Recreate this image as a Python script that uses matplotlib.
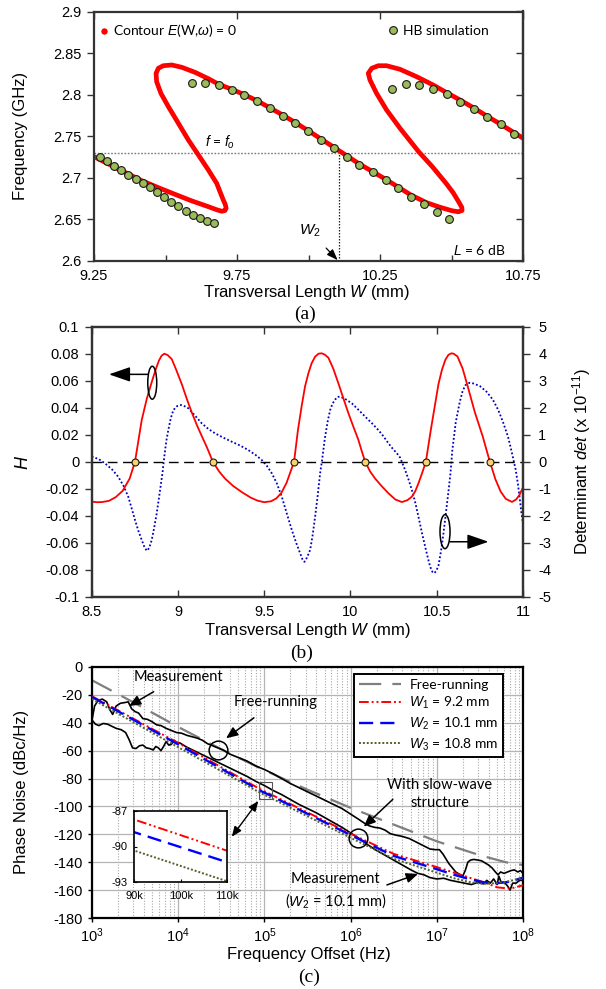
import numpy as np
import matplotlib
matplotlib.use("Agg")
import matplotlib.pyplot as plt
from matplotlib.patches import Ellipse, Rectangle
from matplotlib.lines import Line2D
from matplotlib.font_manager import FontProperties

plt.rcParams['font.family'] = ['Liberation Sans', 'DejaVu Sans']
plt.rcParams['axes.unicode_minus'] = False
plt.rcParams['mathtext.fontset'] = 'custom'
plt.rcParams['mathtext.rm'] = 'Liberation Sans'
plt.rcParams['mathtext.it'] = 'Liberation Sans:italic'
plt.rcParams['mathtext.bf'] = 'Liberation Sans:bold'

# ---------------- data: panel (a) ----------------
contour_w = [9.250, 9.330, 9.417, 9.475, 9.533, 9.590, 9.650, 9.680, 9.697, 9.708, 9.712, 9.709,
             9.702, 9.679, 9.650, 9.615, 9.580, 9.545, 9.510, 9.484, 9.469, 9.467, 9.475, 9.492,
             9.522, 9.557, 9.603, 9.650, 9.686, 9.731, 9.776, 9.821, 9.866, 9.910, 9.955, 9.999,
             10.044, 10.089, 10.134, 10.178, 10.224, 10.270, 10.314, 10.358, 10.413, 10.460, 10.501,
             10.524, 10.537, 10.536, 10.525, 10.505, 10.481, 10.433, 10.385, 10.320, 10.273, 10.238,
             10.215, 10.209, 10.221, 10.244, 10.273, 10.320, 10.378, 10.436, 10.483, 10.530, 10.578,
             10.625, 10.672, 10.718, 10.751]
contour_f = [2.7255, 2.7115, 2.6966, 2.6882, 2.6802, 2.6725, 2.6653, 2.6615, 2.6598, 2.6607, 2.6635, 2.6680,
             2.6734, 2.6934, 2.7094, 2.7275, 2.7455, 2.7656, 2.7856, 2.8016, 2.8156, 2.8257, 2.8317, 2.8348,
             2.8357, 2.8329, 2.8269, 2.8192, 2.8125, 2.8065, 2.8000, 2.7925, 2.7840, 2.7755, 2.7662, 2.7567,
             2.7467, 2.7367, 2.7265, 2.7166, 2.7075, 2.6982, 2.6888, 2.6794, 2.6701, 2.6646, 2.6605,
             2.6592, 2.6608, 2.6645, 2.6712, 2.6825, 2.6934, 2.7134, 2.7315, 2.7596, 2.7816, 2.8016,
             2.8176, 2.8257, 2.8317, 2.8348, 2.8348, 2.8305, 2.8216, 2.8116, 2.8024, 2.7936, 2.7840,
             2.7740, 2.7644, 2.7545, 2.7475]

hb_w = [9.271, 9.294, 9.321, 9.345, 9.370, 9.396, 9.421, 9.446, 9.470, 9.495, 9.520, 9.545, 9.571,
        9.595, 9.621, 9.646, 9.671,
        9.594, 9.639, 9.686, 9.731, 9.776, 9.820, 9.866, 9.910, 9.954, 9.999, 10.043, 10.089, 10.134,
        10.178, 10.224, 10.270, 10.314, 10.358, 10.403, 10.448, 10.492,
        10.293, 10.341, 10.387, 10.434, 10.483, 10.530, 10.579, 10.625, 10.672, 10.718]
hb_f = [2.7254, 2.7206, 2.7146, 2.7094, 2.7038, 2.6990, 2.6938, 2.6886, 2.6826, 2.6773, 2.6713, 2.6661, 2.6605,
        2.6557, 2.6517, 2.6485, 2.6457,
        2.8144, 2.8144, 2.8120, 2.8056, 2.8000, 2.7920, 2.7836, 2.7747, 2.7656, 2.7560, 2.7459, 2.7359, 2.7254,
        2.7158, 2.7070, 2.6974, 2.6874, 2.6773, 2.6682, 2.6589, 2.6505,
        2.8072, 2.8124, 2.8120, 2.8072, 2.8004, 2.7916, 2.7832, 2.7735, 2.7644, 2.7531]

f_o = 2.73
w_2 = 10.108

# ---------------- data: panel (b) ----------------
h_w = [8.50, 8.53, 8.56, 8.60, 8.64, 8.68, 8.72, 8.751, 8.79, 8.82, 8.848, 8.87, 8.89, 8.905, 8.921,
       8.94, 8.964, 8.99, 9.022, 9.05, 9.08, 9.11, 9.138, 9.17, 9.202, 9.24, 9.273, 9.32, 9.37, 9.42,
       9.46, 9.50, 9.54, 9.57, 9.60, 9.63, 9.655, 9.673, 9.695, 9.718, 9.737, 9.756, 9.775, 9.795,
       9.815, 9.834, 9.852, 9.872, 9.90, 9.93, 9.96, 9.988, 10.018, 10.046, 10.065, 10.085, 10.115,
       10.143, 10.18, 10.22, 10.26, 10.298, 10.33, 10.356, 10.375, 10.394, 10.415, 10.437, 10.465,
       10.491, 10.51, 10.53, 10.55, 10.568, 10.585, 10.598, 10.62, 10.65, 10.678, 10.72, 10.767,
       10.79, 10.808, 10.84, 10.87, 10.90, 10.936, 10.96, 10.98, 11.0]
h_val = [-0.0296, -0.0300, -0.0299, -0.0290, -0.0262, -0.0215, -0.0125, 0.0, 0.0309, 0.0470, 0.0590,
         0.0680, 0.0750, 0.0785, 0.0800, 0.0790, 0.0760, 0.0680, 0.0575, 0.0470, 0.0365, 0.0270,
         0.0190, 0.0100, 0.0, -0.0075, -0.0125, -0.0180, -0.0225, -0.0265, -0.0288, -0.0300, -0.0293,
         -0.0272, -0.0230, -0.0155, -0.0065, 0.0, 0.0230, 0.0420, 0.0560, 0.0655, 0.0730, 0.0778,
         0.0800, 0.0803, 0.0792, 0.0770, 0.0690, 0.0580, 0.0465, 0.0359, 0.0255, 0.0161, 0.0080, 0.0,
         -0.0075, -0.0125, -0.0180, -0.0234, -0.0280, -0.0299, -0.0285, -0.0259, -0.0220, -0.0160,
         -0.0085, 0.0, 0.0230, 0.0430, 0.0575, 0.0680, 0.0755, 0.0792, 0.0803, 0.0800, 0.0780,
         0.0690, 0.0565, 0.0370, 0.0185, 0.0080, 0.0, -0.0130, -0.0220, -0.0275, -0.0298, -0.0280,
         -0.0245, -0.0190]

det_w = [8.50, 8.54, 8.577, 8.62, 8.654, 8.685, 8.712, 8.735, 8.751, 8.77, 8.79, 8.805, 8.819, 8.833,
         8.848, 8.862, 8.877, 8.893, 8.91, 8.921, 8.932, 8.944, 8.958, 8.973, 8.995, 9.018, 9.04, 9.06,
         9.10, 9.138, 9.175, 9.215, 9.26, 9.312, 9.36, 9.408, 9.45, 9.486, 9.515, 9.544, 9.573, 9.602,
         9.63, 9.66, 9.685, 9.708, 9.722, 9.733, 9.748, 9.766, 9.78, 9.795, 9.81, 9.824, 9.834, 9.853,
         9.868, 9.882, 9.896, 9.911, 9.925, 9.94, 9.97, 10.008, 10.045, 10.085, 10.125, 10.162, 10.19,
         10.22, 10.245, 10.269, 10.288, 10.317, 10.336, 10.356, 10.375, 10.394, 10.413, 10.433, 10.45,
         10.462, 10.475, 10.485, 10.497, 10.51, 10.525, 10.539, 10.553, 10.568, 10.58, 10.59, 10.61,
         10.633, 10.65, 10.667, 10.69, 10.711, 10.75, 10.789, 10.825, 10.857, 10.885, 10.913, 10.935,
         10.958, 10.97, 10.98, 10.99, 11.0]
det_val = [0.19, 0.10, -0.06, -0.30, -0.56, -0.90, -1.30, -1.80, -2.16, -2.55, -2.90, -3.15, -3.30, -3.20,
           -2.90, -2.45, -1.91, -1.20, -0.43, 0.19, 0.75, 1.17, 1.60, 1.91, 2.06, 2.10, 2.05, 1.98,
           1.70, 1.42, 1.22, 1.05, 0.90, 0.74, 0.60, 0.43, 0.25, 0.06, -0.15, -0.43, -0.80, -1.30,
           -1.90, -2.53, -3.00, -3.39, -3.62, -3.71, -3.55, -3.27, -2.75, -2.04, -1.25, -0.43, 0.0, 0.93,
           1.50, 1.91, 2.15, 2.30, 2.40, 2.41, 2.32, 2.16, 1.93, 1.67, 1.42, 1.17, 0.95,
           0.68, 0.48, 0.31, 0.15, -0.31, -0.65, -1.05, -1.50, -2.04, -2.60, -3.15, -3.60,
           -3.89, -4.08, -4.13, -4.05, -3.85, -3.30, -2.65, -1.90, -1.10, -0.40, 0.40, 1.45,
           2.20, 2.62, 2.84, 2.92, 2.90, 2.80, 2.59, 2.30, 1.91, 1.45, 0.93, 0.35,
           -0.31, -0.80, -1.30, -1.85, -2.30]

zero_w = [8.751, 9.202, 9.673, 10.085, 10.437, 10.808]

# ---------------- data: panel (c) ----------------
sim_logf = [3.0, 4.0, 4.954, 5.041, 6.0, 6.5, 7.0, 7.2, 7.4, 7.55, 7.7, 7.85, 8.0]
w1_pn = [-21.0, -54.5, -87.74, -90.34, -119.5, -134.0, -143.5, -147.5, -151.5, -154.5, -158.0, -159.0, -156.5]
w2_pn = [-21.5, -55.5, -88.8, -91.3, -120.5, -135.5, -145.0, -149.0, -152.5, -154.5, -155.0, -154.0, -151.0]
w3_pn = [-23.0, -57.5, -90.34, -92.9, -122.5, -137.5, -147.5, -151.5, -154.5, -155.5, -155.0, -153.5, -151.0]

free_sim_logf = [3.0, 3.5, 4.0, 4.5, 5.0, 5.5, 6.0, 6.5, 7.0, 7.5, 7.8, 8.0]
free_sim_pn = [-9.5, -26.0, -43.0, -59.0, -74.0, -88.0, -101.0, -113.0, -125.0, -135.0, -140.0, -142.0]

meas_free_logf = [3.00, 3.03, 3.07, 3.12, 3.17, 3.21, 3.24, 3.28, 3.33, 3.38, 3.42, 3.46, 3.50, 3.54, 3.59,
                  3.64, 3.69, 3.75, 3.80, 3.86, 3.92, 3.98, 4.04, 4.10, 4.16, 4.22, 4.28, 4.34, 4.40,
                  4.46, 4.52, 4.60, 4.70, 4.80, 4.90, 5.00, 5.10, 5.20, 5.30, 5.40, 5.50, 5.60, 5.70,
                  5.80, 5.90, 6.00, 6.10, 6.16, 6.22, 6.28, 6.34, 6.40, 6.46, 6.52, 6.60, 6.68, 6.76,
                  6.84, 6.92, 6.98, 7.03, 7.07, 7.10, 7.14, 7.18, 7.22, 7.26, 7.30, 7.33, 7.36, 7.39,
                  7.43, 7.48, 7.52, 7.56, 7.60, 7.64, 7.68, 7.71, 7.74, 7.78, 7.82, 7.86, 7.90, 7.94,
                  7.97, 8.00]
meas_free_pn = [-38, -28, -24, -23, -25, -31, -34, -28, -26, -25.5, -25, -30, -32, -33, -37,
                -37.5, -39, -41.5, -42, -44, -45.5, -47, -47.5, -49, -50, -51, -52.5, -55, -56.5,
                -58, -59.5, -62.5, -65, -67.5, -71, -73.5, -76.5, -80, -83.5, -86.5, -89.5, -92.5, -95.5,
                -98.5, -101.5, -105.5, -109.5, -112, -114, -115, -115.5, -117, -119.5, -120.5, -121.5, -123, -125.5,
                -128, -130.5, -131, -131, -134, -137, -141, -144, -147, -148.5, -150, -146, -140, -138.5,
                -138, -138.5, -139, -140.5, -142, -144, -147, -149, -147, -148, -147, -146, -145.5, -147,
                -146, -148]

meas_sw_logf = [3.00, 3.04, 3.08, 3.13, 3.18, 3.23, 3.28, 3.34, 3.39, 3.43, 3.47, 3.51, 3.55, 3.59, 3.63,
                3.67, 3.71, 3.74, 3.77, 3.80, 3.83, 3.86, 3.89, 3.92, 3.95, 3.98, 4.02, 4.10, 4.20, 4.30,
                4.40, 4.50, 4.60, 4.70, 4.80, 4.90, 5.00, 5.10, 5.20, 5.30, 5.40, 5.50, 5.60, 5.70, 5.80,
                5.90, 6.00, 6.10, 6.20, 6.30, 6.40, 6.50, 6.60, 6.70, 6.78, 6.85, 6.92, 7.00, 7.08, 7.16,
                7.24, 7.32, 7.40, 7.48, 7.54, 7.58, 7.62, 7.66, 7.70, 7.72, 7.75, 7.78, 7.82, 7.85, 7.88,
                7.92, 7.96, 8.00]
meas_sw_pn = [-38, -41, -42, -40.5, -41, -42.5, -44, -45, -47, -52, -58, -58.5, -56.5, -56, -58,
              -58.5, -59.5, -57, -58, -60, -57, -53.5, -56, -55.5, -52.5, -54, -54.5, -57.5, -60.5, -63.5,
              -66.5, -69.5, -72.5, -75.5, -78.5, -82, -85, -88.5, -91.5, -95, -98.5, -101.5, -104.5, -108, -111.5,
              -115, -119, -123, -127.5, -131.5, -135, -138.5, -142, -145.5, -148, -149, -151, -152, -151.5, -153,
              -154, -155, -156, -154.5, -155.5, -153, -155, -152, -156, -150, -155, -154, -157, -160, -155,
              -155, -153, -153]

# ---------------- figure ----------------
FW, FH = 606, 989
fig = plt.figure(figsize=(FW / 100, FH / 100), dpi=100)


def fx(px):
    return px / FW


def fy(py):
    return 1 - py / FH


def rect(l, r, t, b):
    return [l / FW, 1 - b / FH, (r - l) / FW, (b - t) / FH]


ANN = ['Lato', 'DejaVu Sans']
TICK_FS = 10.5
LABEL_FS = 12
SPINE_C = '#333333'

# ---------------- panel (a) ----------------
ax = fig.add_axes(rect(94, 523, 11.5, 261))
ax.set_xlim(9.25, 10.75)
ax.set_ylim(2.6, 2.9)
ax.axhline(f_o, color='#7a7a7a', lw=1.0, ls=(0, (1.2, 1.2)), zorder=1)
ax.plot([w_2, w_2], [2.6, f_o], color='#222222', lw=0.9, ls=(0, (1.2, 1.2)), zorder=1)
ax.plot(contour_w, contour_f, color='#ff0000', lw=3.4, solid_capstyle='round',
        solid_joinstyle='round', zorder=2)
ax.plot(hb_w, hb_f, ls='none', marker='o', ms=5.6, mfc='#9bbb59', mec='#1a1a1a', mew=0.8, zorder=3)
ax.set_xticks([9.25, 9.75, 10.25, 10.75])
ax.set_xticklabels(['9.25', '9.75', '10.25', '10.75'])
ax.set_xticks([9.5, 10.0, 10.5], minor=True)
yticks_a = [2.6, 2.65, 2.7, 2.75, 2.8, 2.85, 2.9]
ax.set_yticks(yticks_a)
ax.set_yticklabels(['2.6', '2.65', '2.7', '2.75', '2.8', '2.85', '2.9'])
ax.tick_params(axis='x', which='both', direction='in', top=True, length=5, width=1, pad=6,
               labelsize=TICK_FS, colors=SPINE_C, labelcolor='black')
ax.tick_params(axis='x', which='minor', top=False, length=4)
ax.tick_params(axis='y', direction='out', length=5, width=1, pad=4, labelsize=TICK_FS,
               colors=SPINE_C, labelcolor='black')
for s in ax.spines.values():
    s.set_color(SPINE_C)
    s.set_linewidth(1.6)
sec = ax.secondary_yaxis('right')
sec.set_yticks(yticks_a)
sec.tick_params(direction='in', length=5, width=1, labelright=False, colors=SPINE_C)
sec.spines['right'].set_color(SPINE_C)
sec.spines['right'].set_linewidth(1.6)

leg_font = FontProperties(family=ANN, size=10)
h1 = Line2D([], [], ls='none', marker='o', ms=3.6, color='#ff0000')
h2 = Line2D([], [], ls='none', marker='o', ms=5.6, mfc='#9bbb59', mec='#1a1a1a', mew=0.8)
leg1 = ax.legend([h1], ['Contour $E$(W,$\\omega$) = 0'], loc='center left',
                 bbox_to_anchor=(0.014, 0.922), frameon=False, handlelength=0.6,
                 handletextpad=0.3, borderaxespad=0, borderpad=0, prop=leg_font)
ax.add_artist(leg1)
ax.legend([h2], ['HB simulation'], loc='center left', bbox_to_anchor=(0.687, 0.922),
          frameon=False, handlelength=0.6, handletextpad=0.42, borderaxespad=0, borderpad=0,
          prop=leg_font)
ax.text(9.69, 2.743, '$f$ = $f_o$', fontsize=10, family=ANN, ha='center', va='center')
ax.text(10.69, 2.613, '$L$ = 6 dB', fontsize=10, family=ANN, ha='right', va='center')
ax.annotate('$W_2$', xy=(w_2 - 0.006, 2.601), xytext=(10.005, 2.636), fontsize=11,
            ha='center', va='center',
            arrowprops=dict(arrowstyle='-|>,head_length=0.6,head_width=0.22', color='black',
                            lw=0.9, shrinkA=6, shrinkB=0))

fig.text(fx(307), fy(293), 'Transversal Length $W$ (mm)', fontsize=LABEL_FS, ha='center', va='center')
fig.text(fx(21), fy(136), 'Frequency (GHz)', fontsize=LABEL_FS, ha='center', va='center', rotation=90)
fig.text(fx(305), fy(314), '(a)', family='Liberation Serif', fontsize=14, ha='center', va='center')

# ---------------- panel (b) ----------------
axb = fig.add_axes(rect(91.7, 523, 326.7, 596.7))
axb2 = axb.twinx()
axb.set_zorder(axb2.get_zorder() + 1)
axb.patch.set_visible(False)

axb2.plot(det_w, det_val, color='#0000c0', lw=1.3, ls=(0, (1.0, 1.2)))
axb2.set_ylim(-5, 5)
axb2.set_yticks(range(-5, 6))
axb2.set_yticklabels([str(v) for v in range(-5, 6)])

axb.axhline(0, color='black', lw=1.0, dashes=(7, 4), zorder=1)
axb.plot(h_w, h_val, color='#ff0000', lw=1.3, zorder=2)
axb.plot(zero_w, [0] * len(zero_w), ls='none', marker='o', ms=5, mfc='#f7d46b', mec='#1a1a1a',
         mew=0.8, zorder=4)
axb.set_xlim(8.5, 11)
axb.set_ylim(-0.1, 0.1)
axb.set_xticks([8.5, 9, 9.5, 10, 10.5, 11])
axb.set_xticklabels(['8.5', '9', '9.5', '10', '10.5', '11'])
yt = [-0.1, -0.08, -0.06, -0.04, -0.02, 0, 0.02, 0.04, 0.06, 0.08, 0.1]
axb.set_yticks(yt)
axb.set_yticklabels(['-0.1', '-0.08', '-0.06', '-0.04', '-0.02', '0', '0.02', '0.04', '0.06', '0.08', '0.1'])
axb.tick_params(axis='x', direction='in', top=True, length=5, width=1, pad=6, labelsize=TICK_FS,
                colors=SPINE_C, labelcolor='black')
axb.tick_params(axis='y', direction='out', length=5, width=1, pad=4, labelsize=TICK_FS,
                colors=SPINE_C, labelcolor='black')
axb2.tick_params(axis='y', direction='out', length=5, width=1, pad=6, labelsize=TICK_FS,
                 colors=SPINE_C, labelcolor='black')
for a_ in (axb, axb2):
    for s in a_.spines.values():
        s.set_color(SPINE_C)
        s.set_linewidth(1.6)

# annotation ellipses and arrows
axb.add_patch(Ellipse((8.851, 0.0585), 0.052, 0.0244, fill=False, ec='black', lw=1.1, zorder=5))
axb.annotate('', xy=(8.60, 0.0647), xytext=(8.826, 0.0647),
             arrowprops=dict(arrowstyle='-|>,head_length=1.3,head_width=0.45', color='black',
                             lw=1.1, mutation_scale=10, shrinkA=0, shrinkB=0), zorder=5)
axb.add_patch(Ellipse((10.548, -0.0518), 0.058, 0.0252, fill=False, ec='black', lw=1.1, zorder=5))
axb.annotate('', xy=(10.80, -0.0593), xytext=(10.577, -0.0593),
             arrowprops=dict(arrowstyle='-|>,head_length=1.3,head_width=0.45', color='black',
                             lw=1.1, mutation_scale=10, shrinkA=0, shrinkB=0), zorder=5)

fig.text(fx(308), fy(630), 'Transversal Length $W$ (mm)', fontsize=LABEL_FS, ha='center', va='center')
fig.text(fx(23), fy(462), '$H$', fontsize=LABEL_FS + 1, ha='center', va='center', rotation=90)
fig.text(fx(582), fy(462), 'Determinant $det$ (x 10$^{-11}$)', fontsize=LABEL_FS, ha='center',
         va='center', rotation=90)
fig.text(fx(302), fy(653), '(b)', family='Liberation Serif', fontsize=14, ha='center', va='center')

# ---------------- panel (c) ----------------
axc = fig.add_axes(rect(92, 523, 667, 918))
axc.set_xscale('log')
axc.set_xlim(1e3, 1e8)
axc.set_ylim(-180, 0)
axc.set_yticks(range(-180, 1, 20))
axc.set_yticklabels([str(v) for v in range(-180, 1, 20)])
axc.set_xticks([1e3, 1e4, 1e5, 1e6, 1e7, 1e8])
axc.set_xticklabels(['$10^{3}$', '$10^{4}$', '$10^{5}$', '$10^{6}$', '$10^{7}$', '$10^{8}$'])
axc.grid(which='major', color='#b4b4b4', lw=0.9)
axc.grid(which='minor', axis='x', color='#a8a8a8', lw=0.8, ls=(0, (1, 1.5)))
axc.set_axisbelow(True)
axc.tick_params(axis='both', which='major', direction='out', length=3, width=1, labelsize=TICK_FS)
axc.tick_params(axis='x', which='major', pad=3)
axc.tick_params(axis='x', which='minor', length=0)
for s in axc.spines.values():
    s.set_color('black')
    s.set_linewidth(1.6)

mf = 10 ** np.array(meas_free_logf)
ms_ = 10 ** np.array(meas_sw_logf)
axc.plot(mf, meas_free_pn, color='black', lw=1.2, zorder=3)
axc.plot(ms_, meas_sw_pn, color='black', lw=1.2, zorder=3)

sf = 10 ** np.array(sim_logf)
ff = 10 ** np.array(free_sim_logf)
style_free = dict(color='#7f7f7f', lw=1.6, dashes=(10, 5))
style_w1 = dict(color='#ff0000', lw=1.4, dashes=(5, 1.5, 1, 1.5, 1, 1.5))
style_w2 = dict(color='#0000ff', lw=1.7, dashes=(6, 3))
style_w3 = dict(color='#4f6228', lw=1.4, dashes=(1, 1))
l0, = axc.plot(ff, free_sim_pn, zorder=2, **style_free)
l1, = axc.plot(sf, w1_pn, zorder=4, **style_w1)
l2, = axc.plot(sf, w2_pn, zorder=4, **style_w2)
l3, = axc.plot(sf, w3_pn, zorder=4, **style_w3)

leg = axc.legend([l0, l1, l2, l3],
                 ['Free-running', '$W_1$ = 9.2 mm', '$W_2$ = 10.1 mm', '$W_3$ = 10.8 mm'],
                 loc='upper left', bbox_to_anchor=(0.609, 0.972), borderaxespad=0,
                 prop=FontProperties(family=ANN, size=10), handlelength=3.0, handletextpad=0.6,
                 labelspacing=0.3, borderpad=0.35, fancybox=False, framealpha=1, edgecolor='black')
leg.get_frame().set_linewidth(1.4)
leg.set_zorder(10)

# zoom rectangle and circles
axc.add_patch(Rectangle((8.55e4, -94.9), 1.228e5 - 8.55e4, 12.6, fill=False, ec='#555555', lw=0.8,
                        zorder=5))
circ_free = (10 ** 4.464, -59.5)
circ_sw = (10 ** 6.084, -122.8)
axc.plot([circ_free[0]], [circ_free[1]], ls='none', marker='o', ms=13.5, mfc='none', mec='black',
         mew=1.1, zorder=6)
axc.plot([circ_sw[0]], [circ_sw[1]], ls='none', marker='o', ms=13.5, mfc='none', mec='black',
         mew=1.1, zorder=6)

arw = dict(arrowstyle='-|>,head_length=0.7,head_width=0.3', color='black', lw=1.1,
           mutation_scale=10, shrinkA=0, shrinkB=0)
fs_ann = 10.5
axc.annotate('Measurement', xy=(10 ** 3.429, -28.0), xytext=(10 ** 4.008, -7.2), fontsize=fs_ann,
             family=ANN, ha='center', va='center', zorder=7,
             arrowprops=dict(arw, shrinkA=7))
axc.annotate('Free-running', xy=(10 ** 4.555, -51.1), xytext=(10 ** 5.124, -25.3), fontsize=fs_ann,
             family=ANN, ha='center', va='center', zorder=7,
             arrowprops=dict(arw, shrinkA=7))
axc.text(10 ** 7.033, -90.9, 'With slow-wave\nstructure', fontsize=fs_ann, family=ANN,
         ha='center', va='center', linespacing=1.35, zorder=7)
axc.annotate('', xy=(10 ** 6.153, -114.5), xytext=(10 ** 6.49, -94.9), arrowprops=arw, zorder=7)
axc.text(10 ** 5.826, -160.5, 'Measurement\n($W_2$ = 10.1 mm)', fontsize=fs_ann, family=ANN,
         ha='center', va='center', linespacing=1.35, zorder=7)
axc.annotate('', xy=(10 ** 6.782, -148.4), xytext=(10 ** 6.421, -156.3), arrowprops=arw, zorder=7)
axc.annotate('', xy=(10 ** 4.929, -96.1), xytext=(10 ** 4.622, -121.7),
             arrowprops=dict(arrowstyle='<|-|>,head_length=0.6,head_width=0.25', color='black',
                             lw=1.0, mutation_scale=10, shrinkA=0, shrinkB=0), zorder=7)

fig.text(fx(309), fy(955), 'Frequency Offset (Hz)', fontsize=LABEL_FS, ha='center', va='center')
fig.text(fx(22), fy(792), 'Phase Noise (dBc/Hz)', fontsize=LABEL_FS, ha='center', va='center',
         rotation=90)
fig.text(fx(309), fy(977), '(c)', family='Liberation Serif', fontsize=14, ha='center', va='center')

# inset
axi = fig.add_axes(rect(134.4, 227, 810.7, 882.3))
axi.set_zorder(20)
axi.plot(sf, w1_pn, **style_w1)
axi.plot(sf, w2_pn, **style_w2)
axi.plot(sf, w3_pn, **style_w3)
axi.set_xlim(9e4, 1.1e5)
axi.set_ylim(-93, -87)
axi.set_xticks([9e4, 1e5, 1.1e5])
axi.set_xticklabels(['90k', '100k', '110k'])
axi.set_yticks([-93, -90, -87])
axi.set_yticklabels(['-93', '-90', '-87'])
axi.tick_params(axis='both', direction='in', length=2, labelsize=8)
axi.tick_params(axis='x', pad=6)
axi.tick_params(axis='y', pad=5)
for s in axi.spines.values():
    s.set_color('black')
    s.set_linewidth(1.2)

fig.savefig('out.png', dpi=100, facecolor='white')
